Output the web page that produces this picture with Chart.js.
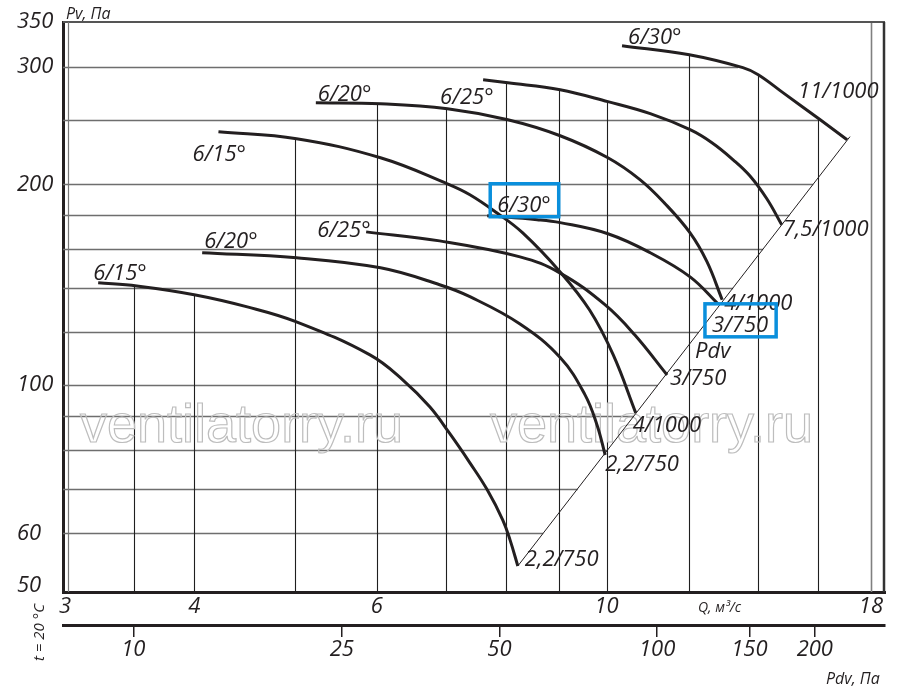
<!DOCTYPE html>
<html>
<head>
<meta charset="utf-8">
<script src="https://cdn.jsdelivr.net/npm/chart.js@4.4.1/dist/chart.umd.min.js"></script>
<style>
  html, body { margin: 0; padding: 0; background: #fff; }
</style>
</head>
<body>
<canvas id="fanChart" width="900" height="693"></canvas>
<script>
// Значения: Q (м³/с), Pv (Па)
const up15 = [[4.22, 239.7], [5.02, 234.0], [6.05, 219.1], [7.02, 200.3], [7.38, 192.9], [7.84, 181.1], [8.30, 169.1], [9.02, 147.8], [9.63, 129.6], [10.15, 111.0], [10.67, 90.9]];
const up20 = [[5.24, 264.9], [6.05, 264.0], [7.02, 259.5], [8.03, 249.8], [9.02, 236.4], [10.03, 219.1], [10.77, 203.2], [11.39, 187.0], [12.04, 169.1], [12.50, 153.1], [12.93, 134.3]];
const up25 = [[7.60, 286.8], [8.03, 283.8], [9.02, 277.1], [10.03, 265.9], [11.02, 255.1], [12.04, 241.4], [12.64, 230.8], [13.25, 217.6], [13.75, 205.9], [14.28, 190.2], [14.76, 173.9]];
const up30 = [[10.35, 322.5], [12.02, 312.6], [13.54, 299.0], [14.01, 291.8], [14.80, 274.3], [16.08, 249.8], [17.07, 233.2]];
const lo15 = [[3.23, 142.4], [3.52, 140.8], [4.01, 136.5], [4.50, 131.0], [5.02, 124.4], [5.91, 111.0], [6.36, 101.8], [6.75, 92.8], [7.05, 84.8], [7.38, 76.5], [7.67, 69.7], [7.94, 62.8], [8.07, 58.6], [8.21, 53.6]];
const lo20 = [[4.07, 157.9], [5.02, 155.2], [6.05, 149.9], [6.90, 141.4], [7.38, 135.7], [8.25, 123.5], [9.02, 110.0], [9.53, 96.8], [9.79, 87.2], [9.97, 78.6]];
const lo25 = [[5.86, 169.7], [6.90, 164.5], [8.25, 155.7], [9.02, 147.2], [9.97, 131.9], [10.65, 118.9], [11.44, 103.6]];
const lo30 = [[7.67, 179.4], [8.57, 177.0], [9.02, 175.2], [10.03, 168.6], [11.02, 157.9], [12.04, 145.3], [12.81, 132.4]];
const pdvLine = [[8.21, 53.6], [17.18, 235.7]];

const curves = [up15, up20, up25, up30, lo15, lo20, lo25, lo30];
const startNames = ['6/15°', '6/20°', '6/25°', '6/30°', '6/15°', '6/20°', '6/25°', '6/30°'];
const endNames = ['4/1000', '4/1000', '7,5/1000', '11/1000', '2,2/750', '2,2/750', '3/750', '3/750'];

const qTicks = [3, 4, 6, 10, 18];
const pvTicks = [50, 60, 100, 200, 300, 350];
const pdvTicks = [10, 25, 50, 100, 150, 200];
const qGrid = [3.5, 4, 5, 6, 7, 8, 9, 10, 12, 14, 16, 18];
const pvGrid = [60, 70, 80, 90, 100, 120, 140, 160, 180, 200, 250, 300];

// смещения подписей в пикселях (от первой/последней точки кривой)
const startOffsets = [[-26, 29], [2, -2], [-43, 24], [6, -2], [-5, -3], [2, -5], [-49, 5], [10, -4]];
const endOffsets = [[-3, 19], [2, 10], [1, 11], [-49, -42], [7, 0], [0, 16], [3, 10], [-6, 28]];
const boxedStart = [7];
const boxedEnd = [7];

const INK = '#231f20';
const BLUE = '#0a8fdc';
const FONT = '"Open Sans", "Liberation Sans", sans-serif';

// Pv кривой в точке q (лог-лог интерполяция)
function curveAt(curve, q) {
  if (q < curve[0][0] || q > curve[curve.length - 1][0]) return null;
  for (let i = 1; i < curve.length; i++) {
    const [q0, p0] = curve[i - 1];
    const [q1, p1] = curve[i];
    if (q <= q1) {
      const t = Math.log(q / q0) / Math.log(q1 / q0);
      return p0 * Math.pow(p1 / p0, t);
    }
  }
  return null;
}

function envelope(q) {
  let best = null;
  curves.forEach(c => {
    const p = curveAt(c, q);
    if (p !== null && (best === null || p > best)) best = p;
  });
  return best;
}

function diagQ(p) {
  const [[q0, p0], [q1, p1]] = pdvLine;
  const t = Math.log(p / p0) / Math.log(p1 / p0);
  return q0 * Math.pow(q1 / q0, t);
}

const nomogramPlugin = {
  id: 'nomogram',
  beforeDatasetsDraw(chart) {
    const { ctx, chartArea: a, scales } = chart;
    const x = scales.x, y = scales.y;
    ctx.save();

    // горизонтальная сетка — до огибающей и линии Pdv
    ctx.strokeStyle = '#6e6e6e';
    ctx.lineWidth = 1.5;
    pvGrid.forEach(p => {
      let qEnd = null;
      for (let i = 0; i <= 800; i++) {
        const q = x.min * Math.pow(x.max / x.min, i / 800);
        const e = envelope(q);
        if (e !== null && e >= p) qEnd = q;
      }
      const qd = diagQ(p);
      if (qEnd === null || qd < qEnd) qEnd = qd;
      const py = Math.round(y.getPixelForValue(p)) + 0.5;
      ctx.beginPath();
      ctx.moveTo(a.left, py);
      ctx.lineTo(Math.min(x.getPixelForValue(qEnd), a.right), py);
      ctx.stroke();
    });

    // вертикальная сетка — от огибающей вниз
    qGrid.forEach(q => {
      const e = envelope(q);
      const px = Math.round(x.getPixelForValue(q)) + 0.5;
      ctx.strokeStyle = q === 18 ? '#808080' : '#1f1f1f';
      ctx.lineWidth = q === 18 ? 1.6 : 1.1;
      ctx.beginPath();
      ctx.moveTo(px, e === null ? a.top : y.getPixelForValue(e));
      ctx.lineTo(px, a.bottom);
      ctx.stroke();
    });

    // рамка
    ctx.strokeStyle = '#555';
    ctx.lineWidth = 2;
    ctx.beginPath();
    ctx.moveTo(a.left, a.top);
    ctx.lineTo(a.right, a.top);
    ctx.stroke();
    ctx.strokeStyle = '#333';
    ctx.lineWidth = 2.5;
    ctx.beginPath();
    ctx.moveTo(a.right - 1, a.top);
    ctx.lineTo(a.right - 1, a.bottom);
    ctx.stroke();
    ctx.strokeStyle = '#777';
    ctx.lineWidth = 1.2;
    ctx.beginPath();
    ctx.moveTo(a.left + 5.5, a.top);
    ctx.lineTo(a.left + 5.5, a.bottom);
    ctx.stroke();

    // водяной знак
    ctx.font = '54px "Liberation Sans", sans-serif';
    ctx.strokeStyle = '#bdbdbd';
    ctx.lineWidth = 1.2;
    ctx.strokeText('ventilatorry.ru', 80, 442, 330);
    ctx.strokeText('ventilatorry.ru', 490, 442, 330);
    ctx.restore();
  },
  afterDatasetsDraw(chart) {
    const { ctx, scales } = chart;
    const x = scales.x, y = scales.y;
    ctx.save();
    ctx.fillStyle = INK;
    ctx.textAlign = 'left';
    ctx.textBaseline = 'alphabetic';
    ctx.font = 'italic 22px ' + FONT;

    const put = (text, pt, off, boxed) => {
      const tx = x.getPixelForValue(pt[0]) + off[0];
      const ty = y.getPixelForValue(pt[1]) + off[1];
      ctx.fillText(text, tx, ty);
      if (boxed) {
        const w = ctx.measureText(text).width;
        ctx.strokeStyle = BLUE;
        ctx.lineWidth = 3.5;
        ctx.strokeRect(tx - 7, ty - 28, w + 15, 33);
      }
    };

    curves.forEach((c, i) => {
      put(startNames[i], c[0], startOffsets[i], boxedStart.includes(i));
      put(endNames[i], c[c.length - 1], endOffsets[i], boxedEnd.includes(i));
    });
    put('Pdv', lo25[lo25.length - 1], [28, -17], false);

    ctx.font = 'italic 16px ' + FONT;
    ctx.fillText('Pv, Па', 66, 19);
    ctx.fillText('Pdv, Па', 826, 684);
    ctx.font = 'italic 14px ' + FONT;
    ctx.fillText('Q, м³/с', 698, 612);

    ctx.translate(44, 661);
    ctx.rotate(-Math.PI / 2);
    ctx.font = 'italic 15px ' + FONT;
    ctx.fillText('t = 20 °C', 0, 0);
    ctx.restore();
  }
};

const tickFont = { family: FONT, size: 22, style: 'italic' };

const datasets = curves.map(c => ({
  data: c.map(([q, p]) => ({ x: q, y: p })),
  borderColor: INK,
  borderWidth: 3,
  pointRadius: 0,
  fill: false,
  tension: 0.4
}));
datasets.push({
  data: pdvLine.map(([q, p]) => ({ x: q, y: p })),
  borderColor: INK,
  borderWidth: 1,
  pointRadius: 0,
  fill: false,
  tension: 0
});

new Chart(document.getElementById('fanChart'), {
  type: 'line',
  data: { datasets },
  options: {
    responsive: false,
    animation: false,
    events: [],
    layout: { padding: { left: 17, top: 22, right: 15, bottom: 0 } },
    plugins: { legend: { display: false }, tooltip: { enabled: false } },
    scales: {
      x: {
        type: 'logarithmic',
        position: 'bottom',
        min: 2.987,
        max: 18.57,
        afterBuildTicks: s => { s.ticks = qTicks.map(v => ({ value: v })); },
        afterFit: s => { s.height = 33; },
        grid: { display: false, drawTicks: false },
        border: { display: true, width: 3, color: INK },
        ticks: { font: tickFont, color: INK, padding: 2, maxRotation: 0, autoSkip: false, callback: v => String(v) }
      },
      x2: {
        type: 'logarithmic',
        position: 'bottom',
        min: 7.34,
        max: 272.3,
        afterBuildTicks: s => { s.ticks = pdvTicks.map(v => ({ value: v })); },
        afterFit: s => { s.height = 68; },
        grid: { display: true, drawOnChartArea: false, drawTicks: true, tickLength: 12, color: INK, lineWidth: 1.5 },
        border: { display: true, width: 3, color: INK },
        ticks: { font: tickFont, color: INK, padding: 0, maxRotation: 0, autoSkip: false, callback: v => String(v) }
      },
      y: {
        type: 'logarithmic',
        position: 'left',
        min: 49,
        max: 350,
        afterBuildTicks: s => { s.ticks = pvTicks.map(v => ({ value: v })); },
        afterFit: s => { s.width = 46; },
        grid: { display: false, drawTicks: false },
        border: { display: true, width: 3, color: INK },
        ticks: { font: tickFont, color: INK, padding: 4, crossAlign: 'far', autoSkip: false, callback: v => String(v) }
      }
    }
  },
  plugins: [nomogramPlugin]
});
</script>
</body>
</html>
